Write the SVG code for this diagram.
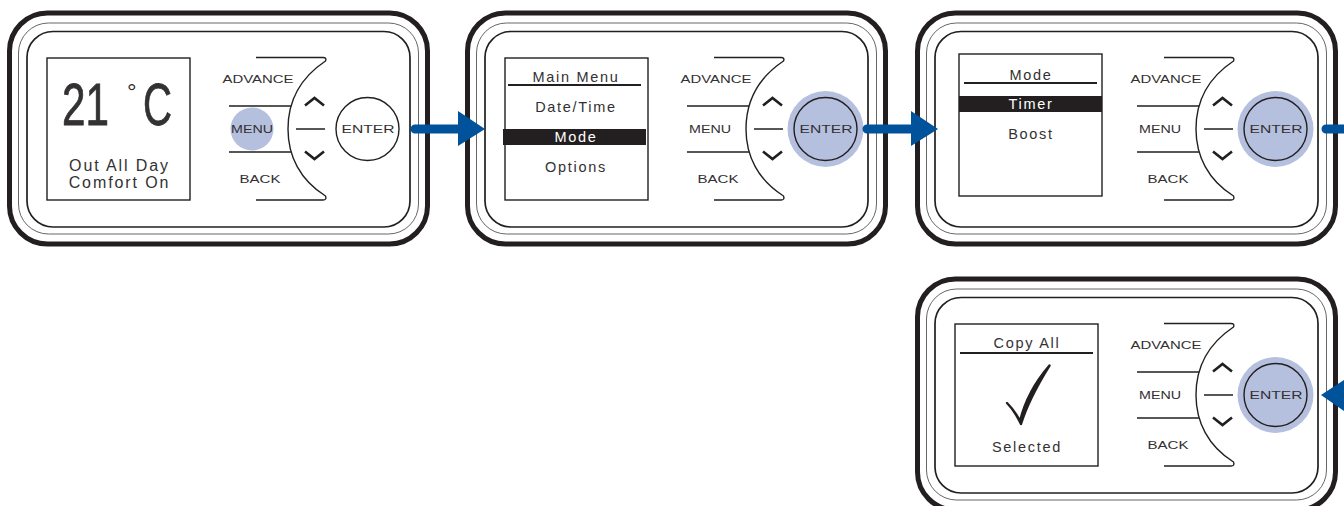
<svg xmlns="http://www.w3.org/2000/svg" xmlns:xlink="http://www.w3.org/1999/xlink" width="1344" height="506" viewBox="0 0 1344 506">
<style>
text{font-family:"Liberation Sans",Arial,sans-serif;fill:#333132}
.o{fill:#fff;stroke:#231f20;stroke-width:5}
.t{fill:none;stroke:#555;stroke-width:.9}
.i{fill:none;stroke:#231f20;stroke-width:1.7}
.l{fill:none;stroke:#231f20;stroke-width:1.4}
.c{fill:none;stroke:#231f20;stroke-width:2.6}
.b{font-size:11.500px;text-anchor:middle}
.s{font-size:14.500px;text-anchor:middle;letter-spacing:1.7px}
.big{font-size:16px;letter-spacing:1.9px}
.scr{fill:#fff;stroke:#231f20;stroke-width:1.4}
.hl{fill:#b5c0de}
.bar{fill:#231f20}
.rule{stroke:#231f20;stroke-width:2}
.ar{fill:#00539b}
.sh{stroke:#00539b;stroke-width:9;stroke-linecap:round}
</style>
<defs>
<g id="body">
<rect class="o" x="9.500" y="13" width="418" height="231" rx="38"/>
<rect class="t" x="18.500" y="23" width="400" height="211" rx="30"/>
<rect class="i" x="27" y="31.500" width="383" height="195.500" rx="26"/>
</g>
<g id="keys">
<path class="l" d="M256 57.500H323Q327 57.500 325.500 61C300 78 288 102 288 129C288 156 300 180 325.500 196Q327 200 323 200H256"/>
<path class="l" d="M229 106H291M229 152H291M296 129H325"/>
<path class="c" d="M305 105.500L314.500 98L324 105.500M305 151.500L314.500 159L324 151.500"/>
<circle class="l" cx="367.500" cy="129" r="31.500"/>
<text class="b" x="258" y="83" textLength="71" lengthAdjust="spacingAndGlyphs">ADVANCE</text>
<text class="b" x="252" y="133" textLength="42" lengthAdjust="spacingAndGlyphs">MENU</text>
<text class="b" x="260" y="183" textLength="41" lengthAdjust="spacingAndGlyphs">BACK</text>
<text class="b" x="368" y="133" textLength="53" lengthAdjust="spacingAndGlyphs">ENTER</text>
</g>
</defs>
<g id="panel-1">
<use xlink:href="#body" href="#body"/>
<rect class="scr" x="47" y="58" width="143" height="142"/>
<text x="62" y="124.500" font-size="60" stroke="#333132" stroke-width=".8"><tspan textLength="47" lengthAdjust="spacingAndGlyphs">21</tspan> <tspan x="127" font-size="24" y="100" stroke-width="0">°</tspan><tspan x="143" textLength="29" lengthAdjust="spacingAndGlyphs" y="124.500">C</tspan></text>
<text class="s big" x="119.500" y="171">Out All Day</text>
<text class="s big" x="119.500" y="188">Comfort On</text>
<circle class="hl" cx="252" cy="129" r="21.500"/>
<use xlink:href="#keys" href="#keys"/>
</g>
<g id="panel-2" transform="translate(458 0)">
<use xlink:href="#body" href="#body"/>
<rect class="scr" x="47" y="58" width="143" height="142"/>
<text class="s" x="118" y="82">Main Menu</text>
<line class="rule" x1="50" y1="85" x2="183" y2="85"/>
<text class="s" x="118" y="112">Date/Time</text>
<rect class="bar" x="45" y="129" width="143" height="16"/>
<text class="s" x="118" y="142" style="fill:#fff">Mode</text>
<text class="s" x="118" y="172">Options</text>
<circle class="hl" cx="367.500" cy="129" r="38"/>
<use xlink:href="#keys" href="#keys"/>
</g>
<g id="panel-3" transform="translate(908 0)">
<use xlink:href="#body" href="#body"/>
<rect class="scr" x="51" y="54" width="143" height="142"/>
<text class="s" x="123" y="80">Mode</text>
<line class="rule" x1="56" y1="83" x2="189" y2="83"/>
<rect class="bar" x="51" y="96" width="143" height="16"/>
<text class="s" x="123" y="109" style="fill:#fff">Timer</text>
<text class="s" x="123" y="139">Boost</text>
<circle class="hl" cx="367.500" cy="129" r="38"/>
<use xlink:href="#keys" href="#keys"/>
</g>
<g id="panel-4" transform="translate(908 266)">
<use xlink:href="#body" href="#body"/>
<rect class="scr" x="47" y="58" width="143" height="142"/>
<text class="s" x="119" y="82">Copy All</text>
<line class="rule" x1="52" y1="87" x2="185" y2="87"/>
<path d="M99 137C105 143 109 149 112 155C117 135 128 115 141.500 99.500C130 118 119 138 113 158C109 150 105 143 99 137Z" fill="#231f20" stroke="#231f20" stroke-width="2.400" stroke-linejoin="round"/>
<text class="s" x="119" y="186">Selected</text>
<circle class="hl" cx="367.500" cy="129" r="38"/>
<use xlink:href="#keys" href="#keys"/>
</g>
<g id="connectors">
<path class="sh" d="M415 129H460M867 129H913M1326 129H1344"/>
<polygon class="ar" points="458,111 485,129 458,146"/>
<polygon class="ar" points="911,111 938,129 911,146"/>
<polygon class="ar" points="1344,380 1321,395 1344,411"/>
</g>
</svg>
